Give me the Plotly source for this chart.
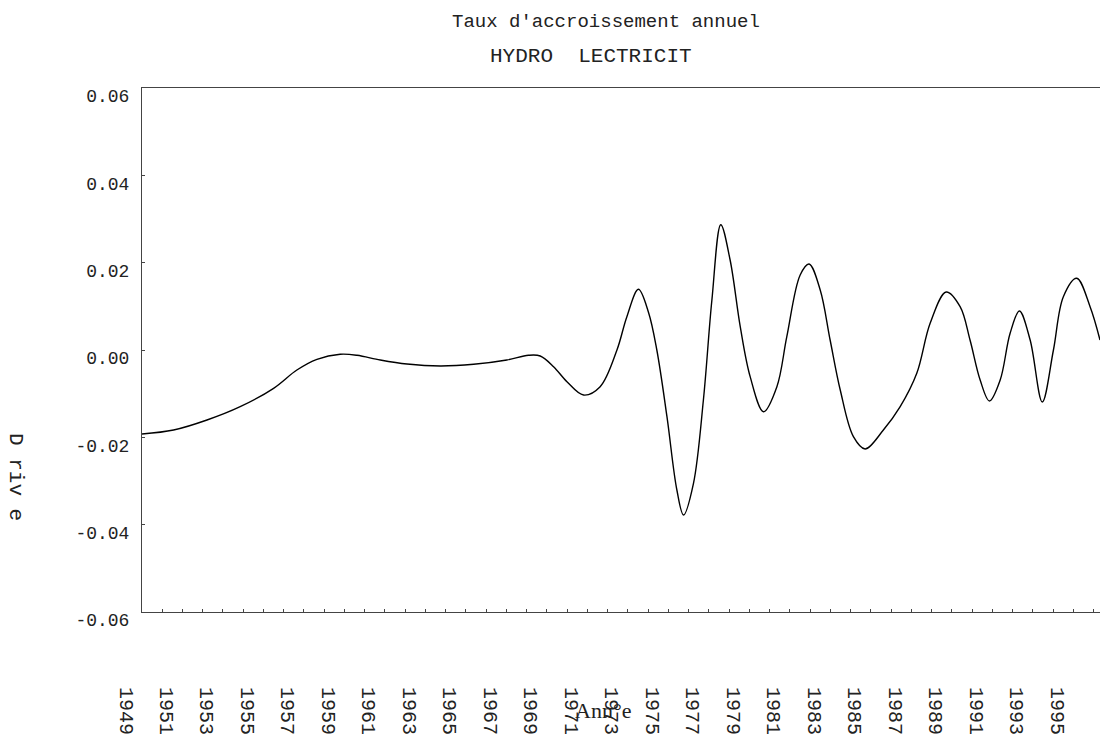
import plotly.graph_objects as go

# Annual growth-rate derivative, hydroelectricity
years = [1949.00, 1950.56, 1952.21, 1953.85, 1955.50, 1956.65, 1957.64, 1958.79,
         1959.62, 1960.77, 1962.09, 1963.73, 1965.38, 1967.02, 1968.09, 1968.67,
         1969.33, 1969.99, 1970.81, 1971.63, 1972.46, 1972.95, 1973.52, 1974.02,
         1974.43, 1974.93, 1975.42, 1975.75, 1976.24, 1976.73, 1977.15, 1977.59,
         1978.05, 1978.55, 1979.04, 1979.70, 1980.36, 1980.85, 1981.51, 1981.95,
         1982.50, 1982.99, 1983.49, 1984.14, 1984.72, 1985.62, 1986.45, 1987.27,
         1987.93, 1988.72, 1989.41, 1989.90, 1990.40, 1990.86, 1991.39, 1991.88,
         1992.34, 1992.87, 1993.47, 1994.02, 1994.51, 1995.17, 1995.83, 1996.32]
derivee = [-0.01924, -0.01832, -0.01603, -0.01298, -0.00877, -0.00458, -0.00213, -0.00098,
           -0.00121, -0.00229, -0.00321, -0.00366, -0.00327, -0.00229, -0.00121, -0.00137,
           -0.00382, -0.00726, -0.01031, -0.00840, 0.00000, 0.00763, 0.01390, 0.00860,
           0.00000, -0.01527, -0.03206, -0.03779, -0.03053, -0.01145, 0.01145, 0.02869,
           0.02061, 0.00534, -0.00611, -0.01413, -0.00840, 0.00305, 0.01718, 0.01969,
           0.01374, 0.00229, -0.00916, -0.01985, -0.02267, -0.01832, -0.01298, -0.00534,
           0.00611, 0.01328, 0.00992, 0.00229, -0.00687, -0.01168, -0.00687, 0.00382,
           0.00893, 0.00229, -0.01191, 0.00000, 0.01221, 0.01642, 0.00992, 0.00229]

tick_years = list(range(1949, 1996, 2))
tick_labels = [str(y) for y in tick_years]
y_ticks = [-0.06, -0.04, -0.02, 0.00, 0.02, 0.04, 0.06]
y_labels = ["-0.06", "-0.04", "-0.02", "0.00", "0.02", "0.04", "0.06"]

MONO = "Liberation Mono"
AXIS = "#444444"
TEXT = "#222222"

fig = go.Figure()
fig.add_trace(go.Scatter(
    x=years, y=derivee, mode="lines",
    line=dict(color="black", width=1.4, shape="spline", smoothing=1.0),
    hoverinfo="skip", showlegend=False,
))

fig.update_layout(
    width=1100, height=740,
    margin=dict(l=142, r=0, t=88, b=128),
    paper_bgcolor="white", plot_bgcolor="white",
    font=dict(family=MONO, color=TEXT),
    showlegend=False,
)

fig.update_xaxes(
    range=[1949, 1996.32],
    showgrid=False, zeroline=False,
    showline=True, linecolor=AXIS, linewidth=1, mirror=True,
    tickmode="array", tickvals=tick_years, ticktext=tick_labels,
    ticks="inside", ticklen=3, tickcolor=AXIS,
    tickangle=90, tickfont=dict(family=MONO, size=20, color=TEXT),
    ticklabelstandoff=70, ticklabelshift=-16,
    minor=dict(dtick=1, tick0=1949, ticks="inside", ticklen=3, tickcolor=AXIS),
)

fig.update_yaxes(
    range=[-0.06, 0.06],
    showgrid=False, zeroline=False,
    showline=True, linecolor=AXIS, linewidth=1,
    tickmode="array", tickvals=y_ticks, ticktext=y_labels,
    ticks="inside", ticklen=3, tickcolor=AXIS,
    tickfont=dict(family=MONO, size=18, color=TEXT),
    ticklabelstandoff=8, ticklabelshift=8,
)

def px_x(px):
    return (px - 142) / 958

def px_y(py):
    return (612 - py) / 524

annotations = [
    dict(text="Taux d'accroissement annuel", x=px_x(606), y=px_y(22),
         font=dict(family=MONO, size=19, color=TEXT)),
    dict(text="HYDRO  LECTRICIT", x=px_x(591), y=px_y(57),
         font=dict(family=MONO, size=21, color=TEXT)),
    dict(text="D riv e", x=px_x(16), y=px_y(477), textangle=90,
         font=dict(family=MONO, size=21, color=TEXT)),
    dict(text="Ann°e", x=px_x(603), y=px_y(710),
         font=dict(family="Liberation Serif", size=22, color=TEXT)),
]
for a in annotations:
    fig.add_annotation(xref="paper", yref="paper", showarrow=False,
                       xanchor="center", yanchor="middle", **a)

fig.write_html("out.html")
